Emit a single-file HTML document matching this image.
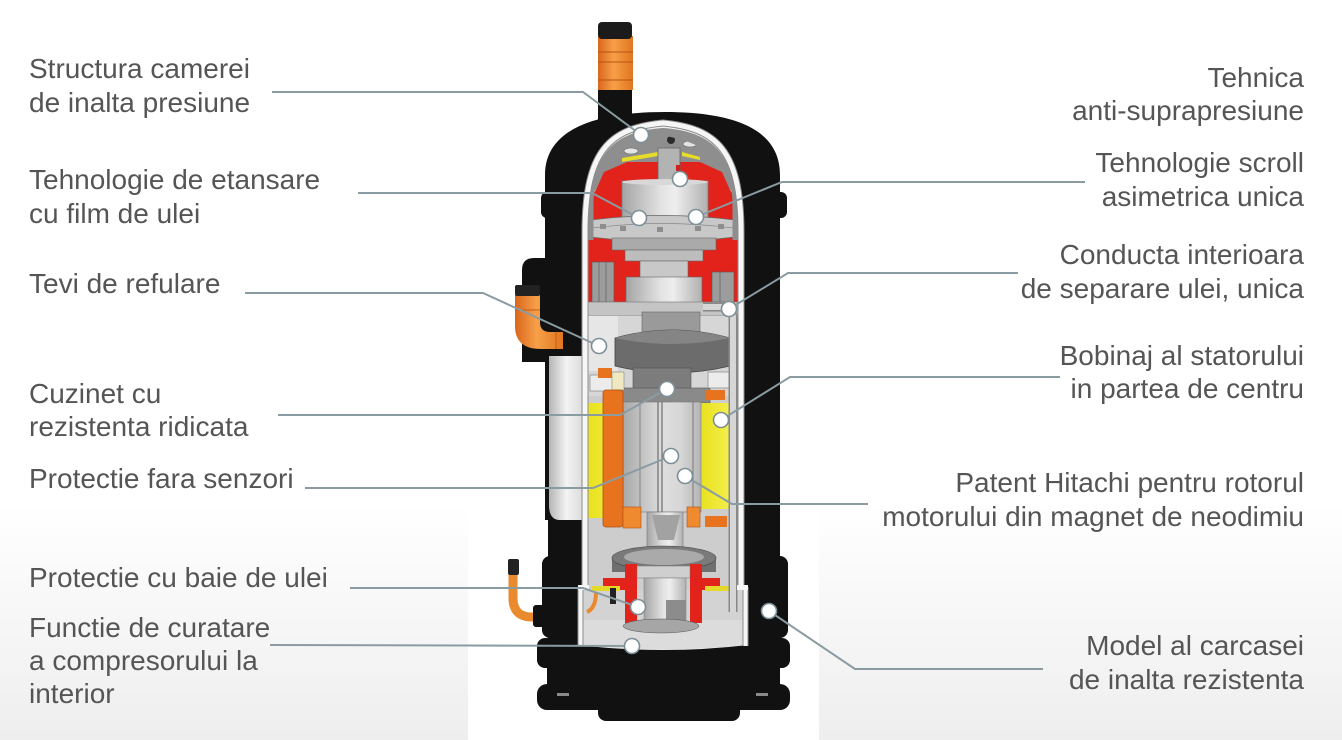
<!DOCTYPE html>
<html><head><meta charset="utf-8"><style>
html,body{margin:0;padding:0;background:#fff;}
svg{display:block;}
text{font-family:"Liberation Sans",Arial,sans-serif;font-size:28px;fill:#555;}
</style></head><body>
<svg width="1342" height="740" viewBox="0 0 1342 740" xmlns="http://www.w3.org/2000/svg">
<defs>
<linearGradient id="bg" x1="0" y1="0" x2="0" y2="1">
<stop offset="0" stop-color="#fff"/><stop offset="0.68" stop-color="#fff"/><stop offset="1" stop-color="#eeeeee"/>
</linearGradient>
<linearGradient id="cyl" x1="0" x2="1" y1="0" y2="0">
<stop offset="0" stop-color="#a4a4a4"/><stop offset="0.45" stop-color="#e2e2e2"/><stop offset="0.62" stop-color="#eeeeee"/><stop offset="1" stop-color="#b0b0b0"/>
</linearGradient>
<linearGradient id="rot" x1="0" x2="1" y1="0" y2="0">
<stop offset="0" stop-color="#a9a9a9"/><stop offset="0.5" stop-color="#dedede"/><stop offset="0.75" stop-color="#d6d6d6"/><stop offset="1" stop-color="#b4b4b4"/>
</linearGradient>
<linearGradient id="pipeO" x1="0" x2="1" y1="0" y2="0">
<stop offset="0" stop-color="#d9661c"/><stop offset="0.45" stop-color="#f7a048"/><stop offset="1" stop-color="#e0761f"/>
</linearGradient>
<linearGradient id="lcyl" x1="0" x2="1" y1="0" y2="0">
<stop offset="0" stop-color="#b5b5b5"/><stop offset="0.5" stop-color="#f3f3f3"/><stop offset="1" stop-color="#dadada"/>
</linearGradient>
<linearGradient id="yel" x1="0" x2="1" y1="0" y2="0">
<stop offset="0" stop-color="#e9e21f"/><stop offset="1" stop-color="#f3ee4a"/>
</linearGradient>
<clipPath id="upper">
<path d="M588,590 L588,232 C588,153 612,132 663,128 C714,132 738,153 738,232 L738,590 Z"/>
</clipPath>
</defs>

<!-- background -->
<rect x="0" y="0" width="1342" height="740" fill="url(#bg)"/>
<rect x="468" y="480" width="351" height="260" fill="#fff"/>

<!-- top pipe -->
<rect x="598" y="82" width="34" height="50" fill="#111"/>
<rect x="598" y="36" width="35" height="54" fill="url(#pipeO)"/>
<line x1="598" y1="52" x2="633" y2="52" stroke="#b85415" stroke-width="1"/>
<line x1="598" y1="62" x2="633" y2="62" stroke="#b85415" stroke-width="1"/>
<line x1="598" y1="80" x2="633" y2="80" stroke="#b85415" stroke-width="1"/>
<rect x="598" y="22" width="34" height="17" rx="4" fill="#1b1b1b"/>

<!-- left suction attachment -->
<path d="M522,270 Q522,258 534,258 L552,258 L552,362 L522,362 Z" fill="#111"/>

<!-- main shell -->
<path d="M545,175 C545,128 598,112 665,112 C732,112 780,128 780,175 L780,645 L548,645 L548,520 L545,520 Z" fill="#111"/>
<rect x="541" y="192" width="246" height="26" rx="6" fill="#111"/>
<rect x="542" y="556" width="246" height="82" rx="8" fill="#111"/>

<!-- base -->
<rect x="537" y="638" width="253" height="30" rx="8" fill="#111"/>
<rect x="547" y="660" width="233" height="40" fill="#111"/>
<rect x="537" y="684" width="253" height="26" rx="10" fill="#111"/>
<rect x="598" y="698" width="142" height="23" rx="8" fill="#111"/>
<rect x="557" y="693" width="12" height="3" fill="#8a8a8a"/>
<rect x="756" y="693" width="12" height="3" fill="#8a8a8a"/>

<!-- orange suction elbow -->
<path d="M515,295 L540,295 L540,322 Q540,332 550,332 L563,332 L563,349 L541,349 Q515,349 515,326 Z" fill="url(#pipeO)"/>
<line x1="515" y1="310" x2="540" y2="310" stroke="#c45e18" stroke-width="1"/>
<line x1="556" y1="332" x2="556" y2="349" stroke="#c45e18" stroke-width="1"/>
<rect x="515" y="285" width="25" height="11" rx="2" fill="#222"/>

<!-- light cylinder on left -->
<path d="M549,356 L584,356 L584,520 L560,520 Q549,520 549,505 Z" fill="url(#lcyl)"/>

<!-- small bottom-left pipe -->
<path d="M513,574 L513,598 Q513,617 532,617 L542,617" fill="none" stroke="#e98a2c" stroke-width="9"/>
<rect x="508" y="559" width="11" height="16" rx="2" fill="#222"/>
<rect x="533" y="605" width="16" height="22" rx="3" fill="#111"/>

<!-- cutaway: wall base -->
<path d="M582,590 L582,232 C582,148 608,125 663,120 C718,125 744,148 744,232 L744,588 L748,588 L748,645 Q663,655 578,645 L578,588 L582,588 Z" fill="#efefef"/>

<!-- upper interior -->
<g clip-path="url(#upper)">
<rect x="580" y="110" width="170" height="500" fill="#cdcdcd"/>
<!-- gray dome -->
<rect x="580" y="110" width="170" height="80" fill="#8e8e8e"/>
<!-- red -->
<path d="M596,190 L604,172 L627,162 L700,162 L722,172 L730,190 L738,200 L738,314 L588,314 L588,200 Z" fill="#e2231b"/>
<!-- holes and gasket -->
<ellipse cx="631" cy="151" rx="7" ry="3" fill="#e4e4e4" stroke="#666" stroke-width="0.6"/>
<ellipse cx="690" cy="144" rx="7" ry="3" fill="#e4e4e4" stroke="#666" stroke-width="0.6"/>
<circle cx="671" cy="140" r="4" fill="#2a2a2a"/>
<path d="M622,158 L658,152 L658,156 L622,162 Z" fill="#e6dc2a"/>
<path d="M682,152 L700,157 L700,160 L682,156 Z" fill="#e6dc2a"/>
<!-- top shaft -->
<rect x="658" y="148" width="22" height="35" fill="#b3b3b3" stroke="#666" stroke-width="0.8"/>
<rect x="676" y="165" width="4" height="6" fill="#d02020"/>
<!-- upper cylinder -->
<rect x="622" y="181" width="86" height="37" fill="url(#cyl)" stroke="#777" stroke-width="0.8"/>
<ellipse cx="665" cy="182" rx="43" ry="3" fill="#d8d8d8"/>
<!-- ring -->
<path d="M590,220 Q663,211 735,220 L735,237 Q663,246 590,237 Z" fill="#c8c8c8" stroke="#666" stroke-width="0.8"/>
<path d="M592,228 Q663,219 733,228" fill="none" stroke="#888" stroke-width="0.8"/>
<rect x="600" y="224" width="6" height="5" fill="#8e8e8e"/>
<rect x="620" y="226" width="6" height="5" fill="#8e8e8e"/>
<rect x="657" y="227" width="6" height="5" fill="#8e8e8e"/>
<rect x="695" y="226" width="6" height="5" fill="#8e8e8e"/>
<rect x="718" y="224" width="6" height="5" fill="#8e8e8e"/>
<!-- scroll stack -->
<rect x="612" y="238" width="104" height="12" fill="#aaaaaa" stroke="#666" stroke-width="0.6"/>
<rect x="625" y="250" width="78" height="11" fill="#bdbdbd" stroke="#666" stroke-width="0.6"/>
<rect x="640" y="261" width="48" height="17" fill="#c8c8c8" stroke="#666" stroke-width="0.6"/>
<rect x="626" y="277" width="76" height="26" fill="url(#cyl)" stroke="#666" stroke-width="0.6"/>
<!-- fins -->
<rect x="592" y="262" width="22" height="40" fill="#9c9c9c" stroke="#555" stroke-width="0.6"/>
<line x1="599" y1="262" x2="599" y2="302" stroke="#666" stroke-width="0.8"/>
<line x1="606" y1="262" x2="606" y2="302" stroke="#666" stroke-width="0.8"/>
<rect x="712" y="272" width="22" height="30" fill="#9c9c9c" stroke="#555" stroke-width="0.6"/>
<line x1="720" y1="272" x2="720" y2="302" stroke="#666" stroke-width="0.8"/>
<!-- frame below red -->
<rect x="588" y="302" width="150" height="14" fill="#c4c4c4" stroke="#777" stroke-width="0.6"/>
<rect x="588" y="316" width="150" height="80" fill="#d6d6d6"/>
<rect x="588" y="316" width="30" height="55" fill="#e6e6e6"/>
<!-- hub behind counterweight -->
<rect x="642" y="312" width="58" height="22" fill="#9a9a9a" stroke="#666" stroke-width="0.6"/>
<!-- counterweight -->
<path d="M615,338 Q672,322 730,338 L730,366 Q672,380 615,366 Z" fill="#6c6c6c" stroke="#444" stroke-width="0.8"/>
<path d="M615,338 Q672,322 730,338 Q672,350 615,338 Z" fill="#858585"/>
<!-- lower hub -->
<rect x="633" y="368" width="58" height="34" fill="#7c7c7c" stroke="#555" stroke-width="0.6"/>
<rect x="620" y="388" width="90" height="15" fill="#8a8a8a" stroke="#555" stroke-width="0.6"/>
<!-- upper end turns -->
<rect x="590" y="375" width="26" height="16" fill="#ececec" stroke="#777" stroke-width="0.6"/>
<rect x="598" y="368" width="14" height="10" fill="#e8731f"/>
<rect x="612" y="372" width="12" height="18" fill="#efe8c0" stroke="#777" stroke-width="0.5"/>
<rect x="708" y="372" width="26" height="16" fill="#ececec" stroke="#777" stroke-width="0.6"/>
<rect x="705" y="390" width="20" height="10" fill="#e8731f"/>
<!-- stator -->
<rect x="588" y="403" width="38" height="115" fill="url(#yel)"/>
<rect x="701" y="403" width="28" height="106" fill="url(#yel)"/>
<!-- rotor -->
<rect x="623" y="402" width="78" height="110" fill="url(#rot)" stroke="#777" stroke-width="0.6"/>
<line x1="640" y1="402" x2="640" y2="512" stroke="#777" stroke-width="0.8"/>
<line x1="658" y1="402" x2="658" y2="512" stroke="#555" stroke-width="1"/>
<line x1="662" y1="402" x2="662" y2="512" stroke="#555" stroke-width="1"/>
<line x1="693" y1="402" x2="693" y2="512" stroke="#666" stroke-width="0.8"/>
<!-- orange coil -->
<rect x="603" y="390" width="20" height="137" rx="3" fill="#e8731f" stroke="#b24d12" stroke-width="0.8"/>
<rect x="623" y="507" width="18" height="21" fill="#ef8a2e" stroke="#b24d12" stroke-width="0.6"/>
<rect x="687" y="507" width="13" height="20" fill="#ef8a2e" stroke="#b24d12" stroke-width="0.6"/>
<rect x="705" y="516" width="22" height="11" fill="#e8731f"/>
<!-- shaft below rotor -->
<rect x="647" y="512" width="36" height="46" fill="url(#cyl)" stroke="#777" stroke-width="0.6"/>
<path d="M652,515 L680,515 L674,540 L658,540 Z" fill="#a2a2a2"/>
<!-- lower bearing -->
<rect x="612" y="558" width="104" height="14" fill="#6f6f6f"/>
<ellipse cx="664" cy="558" rx="52" ry="12" fill="#7a7a7a" stroke="#444" stroke-width="0.6"/>
<ellipse cx="664" cy="557" rx="40" ry="8" fill="#aaaaaa"/>
<!-- gray strip along inner dome wall -->
<path d="M590,240 L590,200 C592,165 612,140 663,132 C714,140 734,165 736,200 L736,240" fill="none" stroke="#8e8e8e" stroke-width="7"/>
</g>

<!-- lower sump -->
<path d="M583,590 L743,590 L743,645 Q663,654 583,645 Z" fill="#d3d3d3"/>
<path d="M583,620 L743,620 L743,645 Q663,654 583,645 Z" fill="#dcdcdc"/>
<!-- lower red frame -->
<path d="M625,564 L637,564 L637,623 L625,623 L625,590 L603,590 L603,578 L625,578 Z" fill="#e2231b"/>
<path d="M690,564 L702,564 L702,578 L720,578 L720,590 L702,590 L702,623 L690,623 Z" fill="#e2231b"/>
<rect x="637" y="566" width="53" height="12" fill="#cfcfcf" stroke="#777" stroke-width="0.5"/>
<rect x="644" y="578" width="42" height="45" fill="url(#cyl)" stroke="#777" stroke-width="0.5"/>
<rect x="666" y="600" width="20" height="23" fill="#8c8c8c"/>
<ellipse cx="661" cy="626" rx="38" ry="7" fill="#a6a6a6" stroke="#555" stroke-width="0.5"/>
<rect x="592" y="586" width="28" height="5" fill="#e4d92a"/>
<rect x="705" y="586" width="30" height="5" fill="#e4d92a"/>
<rect x="610" y="588" width="6" height="16" fill="#222"/>
<path d="M596,592 Q596,608 587,612" fill="none" stroke="#ea8a2c" stroke-width="4"/>

<!-- oil separation pipe -->
<path d="M703,307 L722,307 Q733,307 733,318 L733,612" fill="none" stroke="#888" stroke-width="9"/>
<path d="M703,307 L722,307 Q733,307 733,318 L733,612" fill="none" stroke="#d6d6d6" stroke-width="6"/>

<!-- cut walls -->
<path d="M585,590 L585,232 C585,150 610,128 663,123 C716,128 741,150 741,232 L741,590" fill="none" stroke="#8c8c8c" stroke-width="7"/>
<path d="M585,590 L585,232 C585,150 610,128 663,123 C716,128 741,150 741,232 L741,590" fill="none" stroke="#f6f6f6" stroke-width="5"/>
<path d="M580.5,587 L580.5,646" stroke="#8c8c8c" stroke-width="6"/>
<path d="M580.5,587 L580.5,646" stroke="#f6f6f6" stroke-width="4"/>
<path d="M745.5,587 L745.5,646" stroke="#8c8c8c" stroke-width="6"/>
<path d="M745.5,587 L745.5,646" stroke="#f6f6f6" stroke-width="4"/>
<rect x="578" y="585" width="11" height="5" fill="#f6f6f6"/>
<rect x="737" y="585" width="11" height="5" fill="#f6f6f6"/>

<!-- connectors -->
<g fill="none" stroke="#8a9ba1" stroke-width="2">
<polyline points="272,92 583,92 641,135"/>
<polyline points="358,193 592,193 639,218"/>
<polyline points="245,293 483,293 599,346"/>
<polyline points="278,415 620,415 667,389"/>
<polyline points="305,488 593,488 671,456"/>
<polyline points="350,588 583,588 638,607"/>
<polyline points="270,645 632,646"/>
<polyline points="1085,182 782,182 696,217"/>
<polyline points="1018,273 788,273 729,309"/>
<polyline points="1060,377 790,377 721,420"/>
<polyline points="868,504 732,504 685,476"/>
<polyline points="1043,669 855,669 769,611"/>
</g>

<!-- markers -->
<g fill="#fff" stroke="#7d8f96" stroke-width="1.6">
<circle cx="641" cy="135" r="7.5"/>
<circle cx="680" cy="179" r="7.5"/>
<circle cx="639" cy="218" r="7.5"/>
<circle cx="696" cy="217" r="7.5"/>
<circle cx="729" cy="309" r="7.5"/>
<circle cx="599" cy="346" r="7.5"/>
<circle cx="667" cy="389" r="7.5"/>
<circle cx="721" cy="420" r="7.5"/>
<circle cx="671" cy="456" r="7.5"/>
<circle cx="685" cy="476" r="7.5"/>
<circle cx="638" cy="607" r="7.5"/>
<circle cx="632" cy="646" r="7.5"/>
<circle cx="769" cy="611" r="7.5"/>
</g>

<!-- left labels -->
<text x="29" y="78">Structura camerei</text>
<text x="29" y="112">de inalta presiune</text>
<text x="29" y="189">Tehnologie de etansare</text>
<text x="29" y="223">cu film de ulei</text>
<text x="29" y="293">Tevi de refulare</text>
<text x="29" y="403">Cuzinet cu</text>
<text x="29" y="436">rezistenta ridicata</text>
<text x="29" y="488">Protectie fara senzori</text>
<text x="29" y="587">Protectie cu baie de ulei</text>
<text x="29" y="637">Functie de curatare</text>
<text x="29" y="670">a compresorului la</text>
<text x="29" y="703">interior</text>

<!-- right labels -->
<g text-anchor="end">
<text x="1304" y="87">Tehnica</text>
<text x="1304" y="120">anti-suprapresiune</text>
<text x="1304" y="172">Tehnologie scroll</text>
<text x="1304" y="206">asimetrica unica</text>
<text x="1304" y="264">Conducta interioara</text>
<text x="1304" y="298">de separare ulei, unica</text>
<text x="1304" y="365">Bobinaj al statorului</text>
<text x="1304" y="398">in partea de centru</text>
<text x="1304" y="492">Patent Hitachi pentru rotorul</text>
<text x="1304" y="526">motorului din magnet de neodimiu</text>
<text x="1304" y="655">Model al carcasei</text>
<text x="1304" y="689">de inalta rezistenta</text>
</g>
</svg>
</body></html>
